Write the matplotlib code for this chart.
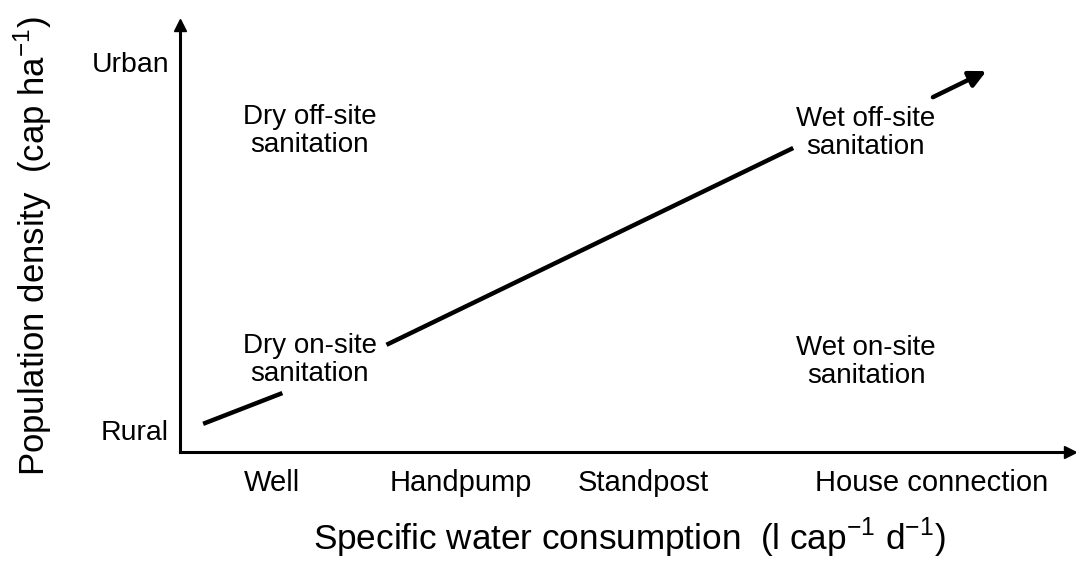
import matplotlib
matplotlib.use('Agg')
import matplotlib.pyplot as plt

plt.rcParams['font.family'] = ['Liberation Sans', 'DejaVu Sans']
plt.rcParams['mathtext.fontset'] = 'custom'
plt.rcParams['mathtext.rm'] = 'Liberation Sans'

# water supply categories along the x axis
supply_types = ['Well', 'Handpump', 'Standpost', 'House connection']
supply_pos = [1.03, 3.16, 5.21, 8.45]

# density categories along the y axis
density_types = ['Rural', 'Urban']
density_pos = [0.52, 9.13]

# trend line, broken where the zone labels sit
seg_low_x = [0.26, 1.15]
seg_low_y = [0.66, 1.38]
seg_mid_x = [2.32, 6.89]
seg_mid_y = [2.51, 7.12]
seg_top_x = [8.46, 9.06]
seg_top_y = [8.31, 8.92]

# sanitation zones
zone_labels = ['Dry off-site\nsanitation', 'Dry on-site\nsanitation',
               'Wet off-site\nsanitation', 'Wet on-site\nsanitation']
zone_x = [1.46, 1.46, 7.70, 7.71]
zone_y = [7.52, 2.15, 7.47, 2.11]

fig = plt.figure(figsize=(10.76, 5.61), dpi=100)
ax = fig.add_axes([180 / 1076, 109 / 561, 890 / 1076, 427 / 561])
ax.set_xlim(0, 10)
ax.set_ylim(0, 10)

for side in ['top', 'right']:
    ax.spines[side].set_visible(False)
for side in ['left', 'bottom']:
    ax.spines[side].set_linewidth(2.2)

# arrow heads on the axes
ax.plot(1, 0, '>k', ms=9, transform=ax.get_yaxis_transform(), clip_on=False)
ax.plot(0, 1, '^k', ms=9, transform=ax.get_xaxis_transform(), clip_on=False)

ax.plot(seg_low_x, seg_low_y, color='black', lw=3.2, solid_capstyle='butt')
ax.plot(seg_mid_x, seg_mid_y, color='black', lw=3.2, solid_capstyle='butt')
ax.annotate('', xy=(seg_top_x[1], seg_top_y[1]), xytext=(seg_top_x[0], seg_top_y[0]),
            arrowprops=dict(arrowstyle='-|>,head_length=1.0,head_width=0.5',
                            color='black', lw=3.2, shrinkA=0, shrinkB=0))

for label, x, y in zip(zone_labels, zone_x, zone_y):
    ax.text(x, y, label, ha='center', va='center', fontsize=20, linespacing=1.12)

ax.set_xticks(supply_pos, supply_types, fontsize=21)
ax.set_yticks(density_pos, density_types, fontsize=20.5)
ax.tick_params(axis='x', length=0, pad=12)
ax.tick_params(axis='y', length=0, pad=8)

fig.text(629 / 1076, 1 - 538 / 561, r'Specific water consumption  (l cap$^{-1}$ d$^{-1}$)',
         ha='center', va='center', fontsize=25.3)
fig.text(33 / 1076, 1 - 246 / 561, r'Population density  (cap ha$^{-1}$)',
         rotation=90, ha='center', va='center', fontsize=25)

fig.savefig('out.png', dpi=100)
